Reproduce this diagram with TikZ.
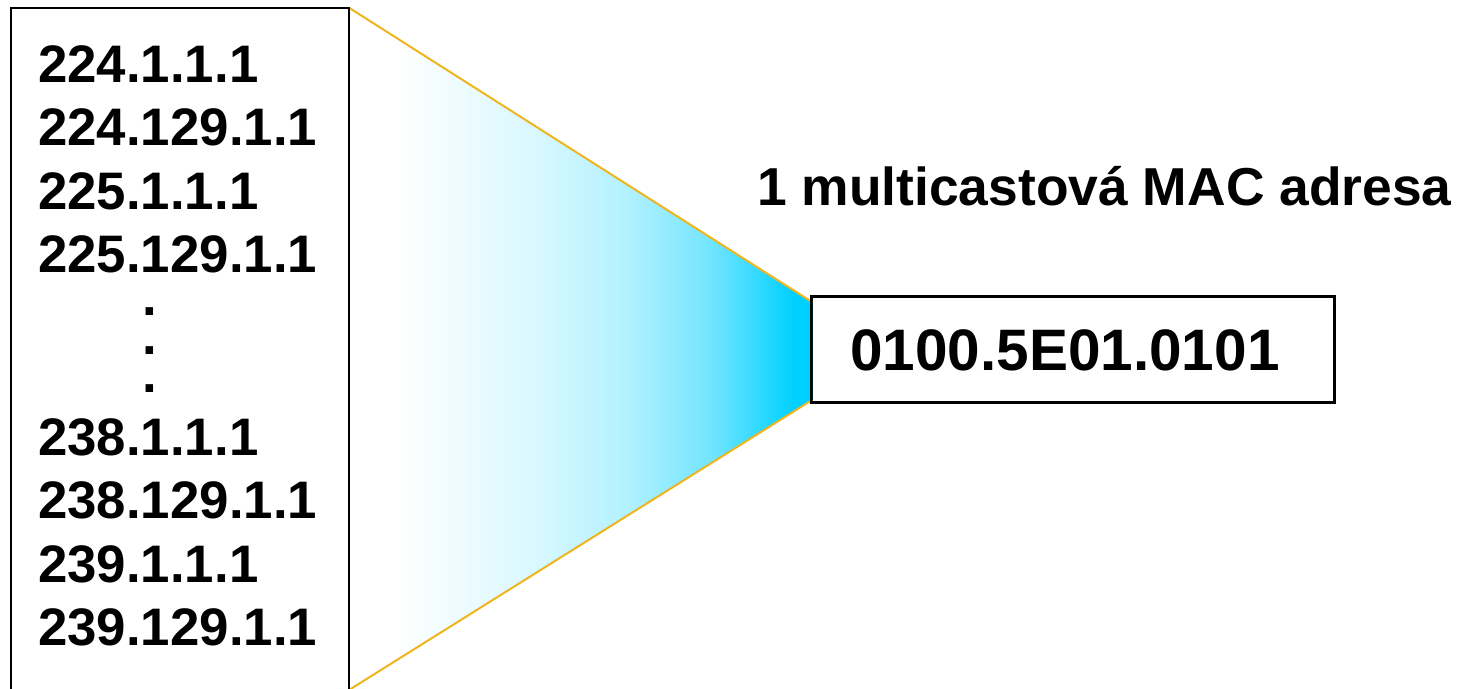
\documentclass[tikz,border=0pt]{standalone}
\usepackage{fontspec}
\setmainfont{Liberation Sans}
\definecolor{funnelline}{RGB}{240,180,30}
\definecolor{cyanend}{RGB}{0,208,255}
\pgfdeclarehorizontalshading{funnelshade}{100bp}{
  color(0bp)=(white);
  color(25bp)=(white);
  color(30bp)=(white);
  color(45bp)=(cyanend!15);
  color(55bp)=(cyanend!30);
  color(64bp)=(cyanend!55);
  color(69bp)=(cyanend!80);
  color(73bp)=(cyanend);
  color(100bp)=(cyanend)}
\begin{document}
\begin{tikzpicture}[x=1pt,y=-1pt,
  addr/.style={anchor=base west,inner sep=0pt,font=\fontsize{52.8}{60}\selectfont\bfseries},
  dotcol/.style={anchor=center,inner sep=0pt,align=center,font=\fontsize{52.8}{38.5}\selectfont\bfseries},
  mactext/.style={anchor=base west,inner sep=0pt,font=\fontsize{58.5}{66}\selectfont\bfseries},
  title/.style={anchor=base west,inner sep=0pt,font=\fontsize{53.4}{60}\selectfont\bfseries},
  boxline/.style={draw=black,line width=2pt},
  funnel/.style={draw=funnelline,line width=2pt}]
\useasboundingbox (0,0) rectangle (1466,688);
% nodes
\node[minimum width=338pt,minimum height=690pt,anchor=north west,inner sep=0pt] (leftbox) at (11,8) {};
\node[boxline,minimum width=522pt,minimum height=105pt,inner sep=0pt] (macbox) at (1073,349) {};
\coordinate (ftop) at (812,302);
\coordinate (fbot) at (812,400);
\coordinate (lbot) at (349,690);
% funnel fill
\shade[shading=funnelshade,shading angle=0]
  (leftbox.north east) -- (ftop) -- (fbot) -- (lbot) -- cycle;
\draw[funnel] (leftbox.north east) -- (ftop);
\draw[funnel] (lbot) -- (fbot);
% boxes
\draw[boxline] (leftbox.south west) -- (leftbox.north west) -- (leftbox.north east) -- (leftbox.south east);
\draw[boxline] (macbox.north west) rectangle (macbox.south east);
% addresses
\node[addr] (a1) at (38,82) {224.1.1.1};
\node[addr] (a2) at (38,145.5) {224.129.1.1};
\node[addr] (a3) at (38,209) {225.1.1.1};
\node[addr] (a4) at (38,272.5) {225.129.1.1};
\node[dotcol] (dots) at (150.3,350.5) {.\\.\\.};
\node[addr] (a5) at (38,455) {238.1.1.1};
\node[addr] (a6) at (38,518.5) {238.129.1.1};
\node[addr] (a7) at (38,582) {239.1.1.1};
\node[addr] (a8) at (38,645.5) {239.129.1.1};
% right texts
\node[title] (lbl) at (757,205) {1 multicastová MAC adresa};
\node[mactext] (mac) at (850,370) {0100.5E01.0101};
\end{tikzpicture}
\end{document}
